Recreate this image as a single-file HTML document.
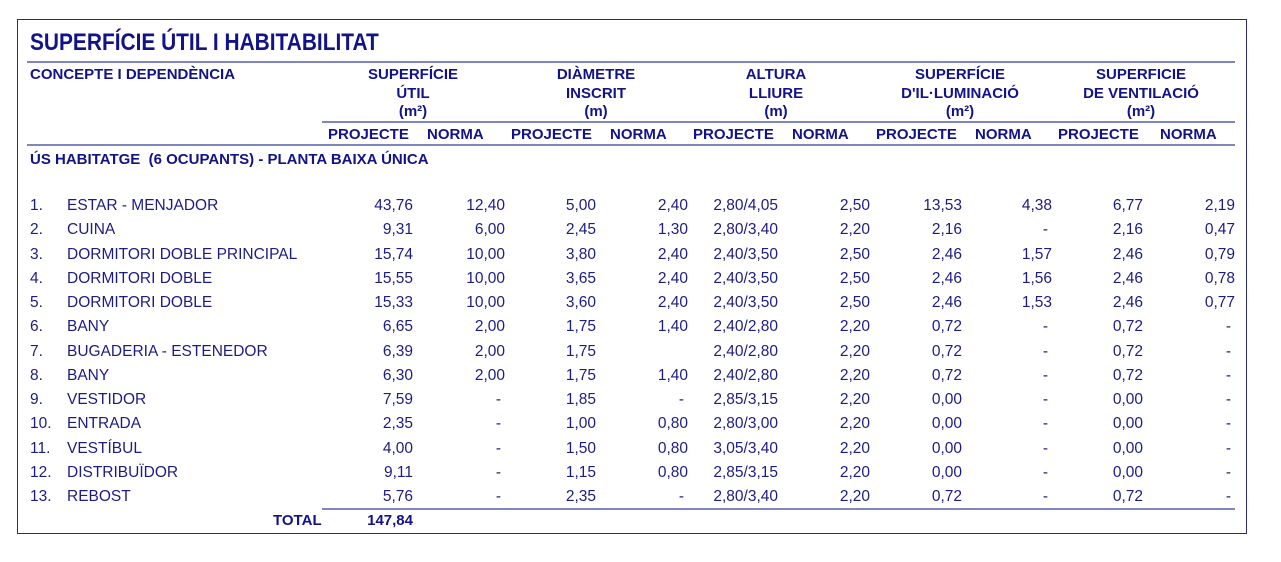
<!DOCTYPE html>
<html><head><meta charset="utf-8"><style>
body{margin:0;width:1281px;height:562px;background:#fff;position:relative;overflow:hidden;font-family:"Liberation Sans",sans-serif;color:#1c1c85}
.box{position:absolute;left:17px;top:19px;width:1228px;height:513px;border:1.5px solid #2a2a7a}
.ln{position:absolute;height:2px;background:#7f86bf}
.t{position:absolute;white-space:nowrap;line-height:18px;font-size:15.5px}
.b{font-weight:bold;font-size:15px;color:#12128a}
.h{position:absolute;white-space:nowrap;font-weight:bold;font-size:15px;color:#12128a;text-align:center;line-height:18.5px;width:200px}
.r{position:absolute;line-height:18px;font-size:15.5px;text-align:right;white-space:nowrap}
</style></head><body>
<div class="box"></div>
<div class="t b" style="left:30px;top:29px;font-size:24px;line-height:28px;transform:scaleX(0.87);transform-origin:left">SUPERFÍCIE ÚTIL I HABITABILITAT</div>
<div class="ln" style="left:27px;top:61px;width:1208px"></div>
<div class="ln" style="left:322px;top:121px;width:913px"></div>
<div class="ln" style="left:27px;top:144px;width:1208px"></div>
<div class="ln" style="left:322px;top:508px;width:913px"></div>
<div class="t b" style="left:30px;top:66px">CONCEPTE I DEPENDÈNCIA</div>
<div class="h" style="left:313px;top:66px">SUPERFÍCIE<br>ÚTIL<br>(m²)</div>
<div class="h" style="left:496px;top:66px">DIÀMETRE<br>INSCRIT<br>(m)</div>
<div class="h" style="left:676px;top:66px">ALTURA<br>LLIURE<br>(m)</div>
<div class="h" style="left:860px;top:66px">SUPERFÍCIE<br>D'IL·LUMINACIÓ<br>(m²)</div>
<div class="h" style="left:1041px;top:66px">SUPERFICIE<br>DE VENTILACIÓ<br>(m²)</div>
<div class="t b" style="left:328px;top:126px">PROJECTE</div>
<div class="t b" style="left:427px;top:126px">NORMA</div>
<div class="t b" style="left:511px;top:126px">PROJECTE</div>
<div class="t b" style="left:610px;top:126px">NORMA</div>
<div class="t b" style="left:693px;top:126px">PROJECTE</div>
<div class="t b" style="left:792px;top:126px">NORMA</div>
<div class="t b" style="left:876px;top:126px">PROJECTE</div>
<div class="t b" style="left:975px;top:126px">NORMA</div>
<div class="t b" style="left:1058px;top:126px">PROJECTE</div>
<div class="t b" style="left:1160px;top:126px">NORMA</div>
<div class="t b" style="left:30px;top:151px">ÚS HABITATGE &nbsp;(6 OCUPANTS) - PLANTA BAIXA ÚNICA</div>
<div id="rows"></div>
<script>
var d=[
["1.","ESTAR - MENJADOR","43,76","12,40","5,00","2,40","2,80/4,05","2,50","13,53","4,38","6,77","2,19"],
["2.","CUINA","9,31","6,00","2,45","1,30","2,80/3,40","2,20","2,16","-","2,16","0,47"],
["3.","DORMITORI DOBLE PRINCIPAL","15,74","10,00","3,80","2,40","2,40/3,50","2,50","2,46","1,57","2,46","0,79"],
["4.","DORMITORI DOBLE","15,55","10,00","3,65","2,40","2,40/3,50","2,50","2,46","1,56","2,46","0,78"],
["5.","DORMITORI DOBLE","15,33","10,00","3,60","2,40","2,40/3,50","2,50","2,46","1,53","2,46","0,77"],
["6.","BANY","6,65","2,00","1,75","1,40","2,40/2,80","2,20","0,72","-","0,72","-"],
["7.","BUGADERIA - ESTENEDOR","6,39","2,00","1,75","","2,40/2,80","2,20","0,72","-","0,72","-"],
["8.","BANY","6,30","2,00","1,75","1,40","2,40/2,80","2,20","0,72","-","0,72","-"],
["9.","VESTIDOR","7,59","-","1,85","-","2,85/3,15","2,20","0,00","-","0,00","-"],
["10.","ENTRADA","2,35","-","1,00","0,80","2,80/3,00","2,20","0,00","-","0,00","-"],
["11.","VESTÍBUL","4,00","-","1,50","0,80","3,05/3,40","2,20","0,00","-","0,00","-"],
["12.","DISTRIBUÏDOR","9,11","-","1,15","0,80","2,85/3,15","2,20","0,00","-","0,00","-"],
["13.","REBOST","5,76","-","2,35","-","2,80/3,40","2,20","0,72","-","0,72","-"]];
var R=[413,505,596,688,778,870,962,1052,1143,1235];
var h="";
d.forEach(function(r,i){var y=Math.round(197+i*24.25);
h+='<div class="t" style="left:30px;top:'+y+'px">'+r[0]+'</div><div class="t" style="left:67px;top:'+y+'px">'+r[1]+'</div>';
for(var k=0;k<10;k++){var v=r[k+2];var rr=1281-R[k]+(v=="-"?4:0);h+='<div class="r" style="right:'+rr+'px;top:'+y+'px">'+v+'</div>';}
});
h+='<div class="t b" style="left:273px;top:512px">TOTAL</div><div class="r b" style="right:868px;top:512px;font-size:15px">147,84</div>';
document.getElementById("rows").innerHTML=h;
</script>
</body></html>
